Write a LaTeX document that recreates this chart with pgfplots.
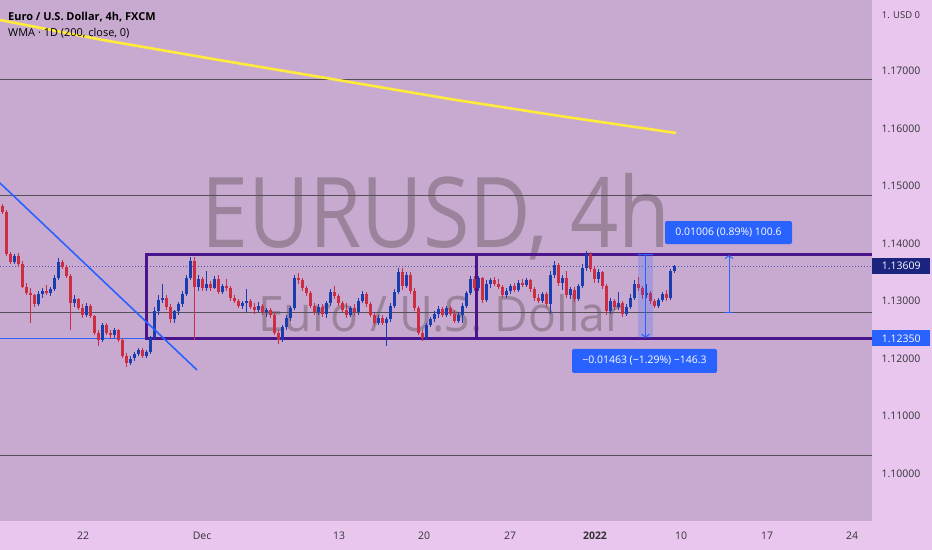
\documentclass[border=0pt]{standalone}
\usepackage{fontspec}
\setmainfont{Open Sans}
\usepackage{graphicx}
\usepackage{pgfplots}
\pgfplotsset{compat=1.18}
\usepackage{pgfplotstable}
\usetikzlibrary{arrows.meta}

\definecolor{plotbg}{RGB}{200,170,208}
\definecolor{panelbg}{RGB}{233,198,238}
\definecolor{cup}{RGB}{25,60,175}
\definecolor{cdown}{RGB}{205,45,65}
\definecolor{wmark}{RGB}{155,131,155}
\definecolor{tvblue}{RGB}{41,98,255}
\definecolor{rectpurple}{RGB}{74,20,140}
\definecolor{levelgrey}{RGB}{85,80,88}
\definecolor{wma}{RGB}{255,235,59}
\definecolor{navy}{RGB}{26,35,126}
\definecolor{pricedot}{RGB}{75,85,175}
\definecolor{labelgrey}{RGB}{50,50,55}

\newcommand\tickfont{\fontsize{10.5}{12}\selectfont}

% 4h candles: x = bar position, o h l c
\pgfplotstableread{
x o h l c
2 1.1465 1.1468 1.1452 1.1455
6 1.1455 1.1458 1.1378 1.1382
10 1.1382 1.1386 1.1364 1.1368
14 1.1368 1.1382 1.1365 1.1378
18 1.1378 1.1383 1.1360 1.1365
22 1.1365 1.1370 1.1322 1.1325
26 1.1325 1.1332 1.1310 1.1314
30 1.1314 1.1322 1.1262 1.1310
34 1.1310 1.1312 1.1290 1.1295
38 1.1295 1.1318 1.1292 1.1312
42 1.1312 1.1322 1.1305 1.1318
46 1.1318 1.1328 1.1310 1.1314
50 1.1314 1.1325 1.1308 1.1320
54 1.1320 1.1345 1.1318 1.1340
58 1.1340 1.1374 1.1336 1.1368
62 1.1368 1.1372 1.1356 1.1360
66 1.1360 1.1363 1.1340 1.1344
70 1.1344 1.1347 1.1250 1.1296
74 1.1296 1.1310 1.1290 1.1304
78 1.1304 1.1306 1.1284 1.1288
82 1.1288 1.1294 1.1270 1.1276
86 1.1276 1.1296 1.1272 1.1292
90 1.1292 1.1295 1.1270 1.1274
94 1.1274 1.1276 1.1240 1.1245
98 1.1245 1.1250 1.1222 1.1232
102 1.1232 1.1262 1.1228 1.1258
106 1.1258 1.1262 1.1240 1.1245
110 1.1245 1.1250 1.1234 1.1240
114 1.1240 1.1253 1.1236 1.1249
118 1.1249 1.1252 1.1228 1.1232
122 1.1232 1.1236 1.1200 1.1205
126 1.1205 1.1210 1.1186 1.1192
130 1.1192 1.1205 1.1188 1.1200
134 1.1200 1.1212 1.1196 1.1208
138 1.1208 1.1218 1.1204 1.1214
142 1.1214 1.1218 1.1200 1.1205
146 1.1205 1.1215 1.1201 1.1211
150 1.1211 1.1240 1.1208 1.1236
154 1.1236 1.1290 1.1232 1.1282
158 1.1282 1.1310 1.1276 1.1302
162 1.1302 1.1330 1.1296 1.1306
166 1.1306 1.1310 1.1284 1.1290
170 1.1290 1.1294 1.1262 1.1268
174 1.1268 1.1285 1.1262 1.1282
178 1.1282 1.1298 1.1276 1.1294
182 1.1294 1.1318 1.1290 1.1312
186 1.1312 1.1345 1.1308 1.1340
190 1.1340 1.1376 1.1336 1.1370
194 1.1370 1.1377 1.1232 1.1325
198 1.1325 1.1345 1.1318 1.1338
202 1.1338 1.1342 1.1318 1.1322
206 1.1322 1.1352 1.1318 1.1330
210 1.1330 1.1334 1.1318 1.1322
214 1.1322 1.1344 1.1320 1.1338
218 1.1338 1.1345 1.1312 1.1316
222 1.1316 1.1330 1.1312 1.1326
226 1.1326 1.1338 1.1318 1.1322
230 1.1322 1.1326 1.1300 1.1305
234 1.1305 1.1310 1.1296 1.1300
238 1.1300 1.1304 1.1288 1.1292
242 1.1292 1.1300 1.1286 1.1296
246 1.1296 1.1320 1.1280 1.1300
250 1.1300 1.1304 1.1286 1.1290
254 1.1290 1.1296 1.1278 1.1284
258 1.1284 1.1298 1.1280 1.1292
262 1.1292 1.1295 1.1276 1.1280
266 1.1280 1.1288 1.1272 1.1284
270 1.1284 1.1287 1.1270 1.1276
274 1.1276 1.1280 1.1240 1.1245
278 1.1245 1.1250 1.1226 1.1232
282 1.1232 1.1258 1.1228 1.1254
286 1.1254 1.1275 1.1250 1.1270
290 1.1270 1.1292 1.1266 1.1288
294 1.1288 1.1345 1.1284 1.1340
298 1.1340 1.1349 1.1330 1.1336
302 1.1336 1.1340 1.1318 1.1322
306 1.1322 1.1326 1.1308 1.1314
310 1.1314 1.1318 1.1288 1.1292
314 1.1292 1.1296 1.1276 1.1280
318 1.1280 1.1294 1.1276 1.1290
322 1.1290 1.1294 1.1272 1.1278
326 1.1278 1.1300 1.1270 1.1296
330 1.1296 1.1320 1.1292 1.1316
334 1.1316 1.1326 1.1304 1.1308
338 1.1308 1.1312 1.1292 1.1296
342 1.1296 1.1300 1.1280 1.1284
346 1.1284 1.1296 1.1270 1.1276
350 1.1276 1.1292 1.1272 1.1288
354 1.1288 1.1294 1.1274 1.1280
358 1.1280 1.1305 1.1276 1.1300
362 1.1300 1.1318 1.1296 1.1312
366 1.1312 1.1315 1.1290 1.1294
370 1.1294 1.1298 1.1272 1.1276
374 1.1276 1.1280 1.1258 1.1262
378 1.1262 1.1275 1.1258 1.1270
382 1.1270 1.1276 1.1258 1.1262
386 1.1262 1.1272 1.1222 1.1268
390 1.1268 1.1296 1.1264 1.1292
394 1.1292 1.1320 1.1288 1.1316
398 1.1316 1.1358 1.1312 1.1350
402 1.1350 1.1358 1.1320 1.1326
406 1.1326 1.1350 1.1322 1.1345
410 1.1345 1.1350 1.1312 1.1318
414 1.1318 1.1322 1.1282 1.1288
418 1.1288 1.1292 1.1240 1.1245
422 1.1245 1.1250 1.1230 1.1235
426 1.1235 1.1262 1.1232 1.1258
430 1.1258 1.1272 1.1254 1.1268
434 1.1268 1.1282 1.1264 1.1278
438 1.1278 1.1292 1.1270 1.1286
442 1.1286 1.1290 1.1272 1.1276
446 1.1276 1.1292 1.1272 1.1288
450 1.1288 1.1292 1.1274 1.1278
454 1.1278 1.1284 1.1262 1.1266
458 1.1266 1.1280 1.1262 1.1276
462 1.1276 1.1296 1.1262 1.1292
466 1.1292 1.1318 1.1288 1.1314
470 1.1314 1.1344 1.1310 1.1338
474 1.1338 1.1344 1.1318 1.1322
478 1.1322 1.1344 1.1318 1.1340
482 1.1340 1.1342 1.1296 1.1302
486 1.1302 1.1336 1.1298 1.1330
490 1.1330 1.1340 1.1322 1.1336
494 1.1336 1.1342 1.1326 1.1330
498 1.1330 1.1338 1.1320 1.1324
502 1.1324 1.1328 1.1306 1.1310
506 1.1310 1.1322 1.1306 1.1318
510 1.1318 1.1330 1.1312 1.1326
514 1.1326 1.1332 1.1316 1.1320
518 1.1320 1.1336 1.1316 1.1332
522 1.1332 1.1338 1.1324 1.1328
526 1.1328 1.1340 1.1324 1.1336
530 1.1336 1.1338 1.1316 1.1320
534 1.1320 1.1324 1.1300 1.1306
538 1.1306 1.1312 1.1296 1.1300
542 1.1300 1.1316 1.1296 1.1312
546 1.1312 1.1316 1.1290 1.1294
550 1.1294 1.1352 1.1278 1.1346
554 1.1346 1.1370 1.1340 1.1362
558 1.1362 1.1366 1.1326 1.1332
562 1.1332 1.1345 1.1320 1.1340
566 1.1340 1.1352 1.1306 1.1310
570 1.1310 1.1325 1.1304 1.1320
574 1.1320 1.1324 1.1298 1.1304
578 1.1304 1.1330 1.1300 1.1326
582 1.1326 1.1364 1.1322 1.1358
586 1.1358 1.1387 1.1352 1.1382
590 1.1382 1.1385 1.1350 1.1356
594 1.1356 1.1360 1.1332 1.1338
598 1.1338 1.1355 1.1332 1.1350
602 1.1350 1.1352 1.1320 1.1326
606 1.1326 1.1330 1.1276 1.1282
610 1.1282 1.1305 1.1278 1.1300
614 1.1300 1.1304 1.1284 1.1290
618 1.1290 1.1316 1.1284 1.1296
622 1.1296 1.1300 1.1272 1.1278
626 1.1278 1.1294 1.1274 1.1290
630 1.1290 1.1312 1.1286 1.1306
634 1.1306 1.1336 1.1302 1.1330
638 1.1330 1.1342 1.1318 1.1322
642 1.1322 1.1326 1.1304 1.1310
646 1.1310 1.1330 1.1306 1.1314
650 1.1314 1.1318 1.1294 1.1300
654 1.1300 1.1304 1.1288 1.1292
658 1.1292 1.1306 1.1288 1.1302
662 1.1302 1.1316 1.1298 1.1312
666 1.1312 1.1320 1.1300 1.1306
670 1.1306 1.1356 1.1302 1.1352
674 1.1352 1.1362 1.1348 1.13609
}\candles

\pgfplotsset{
  candle/.style={draw=none, mark=none, forget plot,
    error bars/.cd, y dir=both, y explicit, error mark=none},
}

\begin{document}
\begin{tikzpicture}
\fill[panelbg] (0,-29bp) rectangle (932bp,521bp);
\begin{axis}[
  at={(0,0)}, anchor=south west,
  width=872bp, height=521bp, scale only axis,
  xmin=0, xmax=872, ymin=1.091739, ymax=1.182348,
  clip mode=individual,
  axis line style={draw=none},
  tick style={draw=none},
  axis background/.style={fill=plotbg},
  ytick={1.10,1.11,1.12,1.13,1.14,1.15,1.16,1.17},
  yticklabels={1.10000,1.11000,1.12000,1.13000,1.14000,1.15000,1.16000,1.17000},
  yticklabel pos=right,
  yticklabel style={anchor=center, xshift=29bp, font=\tickfont, text=labelgrey},
  xtick={83,202,339,424,510,595,681,767,852},
  xticklabels={22,Dec,13,20,27,\textbf{2022},10,17,24},
  xticklabel style={anchor=center, yshift=-15bp, font=\tickfont, text=labelgrey},
]
% watermark
\node[anchor=base west, inner sep=0, text=wmark] at (axis cs:201,1.13939)
  {\scalebox{0.865}[1]{\fontsize{98}{98}\selectfont EURUSD, 4h}};
\node[anchor=base west, inner sep=0, text=wmark] at (axis cs:258,1.12461)
  {\scalebox{0.95}[1]{\fontsize{49}{49}\selectfont Euro / U.S. Dollar}};

% horizontal levels
\addplot[levelgrey, line width=1bp] coordinates {(0,1.1685) (872,1.1685)};
\addplot[levelgrey, line width=1bp] coordinates {(0,1.14837) (872,1.14837)};
\addplot[levelgrey, line width=1bp] coordinates {(0,1.12807) (872,1.12807)};
\addplot[levelgrey, line width=1bp] coordinates {(0,1.1031) (872,1.1031)};
\addplot[pricedot, line width=0.8bp, dash pattern=on 1bp off 2bp] coordinates {(0,1.13609) (872,1.13609)};
\addplot[tvblue, line width=0.9bp] coordinates {(0,1.1235) (146,1.1235)};

% WMA 1D (200)
\addplot[wma, line width=2.6bp] coordinates {
  (0,1.17887) (100,1.17548) (213,1.17209) (320,1.16896) (450,1.16513) (560,1.16217) (676,1.15922)};

% range rectangles
\draw[rectpurple, line width=3bp, line join=miter]
  (axis cs:872,1.13813) -- (axis cs:146,1.13813) -- (axis cs:146,1.1235) -- (axis cs:872,1.1235);
\draw[rectpurple, line width=3bp] (axis cs:476,1.13813) -- (axis cs:476,1.1235);

% candles: wicks then bodies
\addplot[candle, error bar style={draw=cup, line width=1bp}] table[x=x,
  y expr={\thisrow{c}>=\thisrow{o} ? 0.5*(\thisrow{h}+\thisrow{l}) : nan},
  y error expr={0.5*(\thisrow{h}-\thisrow{l})}] {\candles};
\addplot[candle, error bar style={draw=cdown, line width=1bp}] table[x=x,
  y expr={\thisrow{c}<\thisrow{o} ? 0.5*(\thisrow{h}+\thisrow{l}) : nan},
  y error expr={0.5*(\thisrow{h}-\thisrow{l})}] {\candles};
\addplot[candle, error bar style={draw=cup, line width=3bp}] table[x=x,
  y expr={\thisrow{c}>=\thisrow{o} ? 0.5*(\thisrow{o}+\thisrow{c}) : nan},
  y error expr={0.5*abs(\thisrow{c}-\thisrow{o})}] {\candles};
\addplot[candle, error bar style={draw=cdown, line width=3bp}] table[x=x,
  y expr={\thisrow{c}<\thisrow{o} ? 0.5*(\thisrow{o}+\thisrow{c}) : nan},
  y error expr={0.5*abs(\thisrow{c}-\thisrow{o})}] {\candles};

% trend line
\addplot[tvblue, line width=1.6bp] coordinates {(0,1.15052) (197,1.11800)};

% measure tools
\fill[tvblue, opacity=0.22] (axis cs:638,1.13813) rectangle (axis cs:653,1.1235);
\draw[tvblue, line width=1bp] (axis cs:638,1.13813) -- (axis cs:653,1.13813);
\draw[tvblue, line width=1bp, -{Straight Barb[length=3bp,width=8bp]}]
  (axis cs:645.5,1.13813) -- (axis cs:645.5,1.1236);
\draw[tvblue, line width=1bp, -{Straight Barb[length=3bp,width=8bp]}]
  (axis cs:729,1.12807) -- (axis cs:729,1.13800);
\draw[tvblue, line width=1bp] (axis cs:725,1.12807) -- (axis cs:733,1.12807);

\node[fill=tvblue, text=white, rounded corners=2bp, font=\tickfont,
  minimum width=127bp, minimum height=23bp, inner sep=0]
  at (axis cs:728.5,1.14191) {0.01006 (0.89\%) 100.6};
\node[fill=tvblue, text=white, rounded corners=2bp, font=\tickfont,
  minimum width=145bp, minimum height=24bp, inner sep=0]
  at (axis cs:644.5,1.11957) {−0.01463 (−1.29\%) −146.3};

% price scale labels
\node[fill=navy, text=white, anchor=west, font=\tickfont,
  minimum width=58bp, minimum height=16bp, inner sep=0]
  at (axis cs:872,1.13609) {1.13609};
\node[fill=tvblue, text=white, anchor=west, font=\tickfont,
  minimum width=58bp, minimum height=16bp, inner sep=0]
  at (axis cs:872,1.1235) {1.12350};
\end{axis}

% legend
\node[anchor=base west, inner sep=0, font=\fontsize{11}{13}\selectfont\bfseries]
  at (8bp,500bp) {Euro / U.S. Dollar, 4h, FXCM};
\node[anchor=base west, inner sep=0, font=\fontsize{11}{13}\selectfont]
  at (8bp,484.5bp) {WMA · 1D (200, close, 0)};
\node[anchor=center, inner sep=0, font=\fontsize{9.5}{11}\selectfont, text=labelgrey]
  at (901bp,506bp) {1. USD 0};

\pgfresetboundingbox
\path (0,-29bp) rectangle (932bp,521bp);
\end{tikzpicture}
\end{document}
